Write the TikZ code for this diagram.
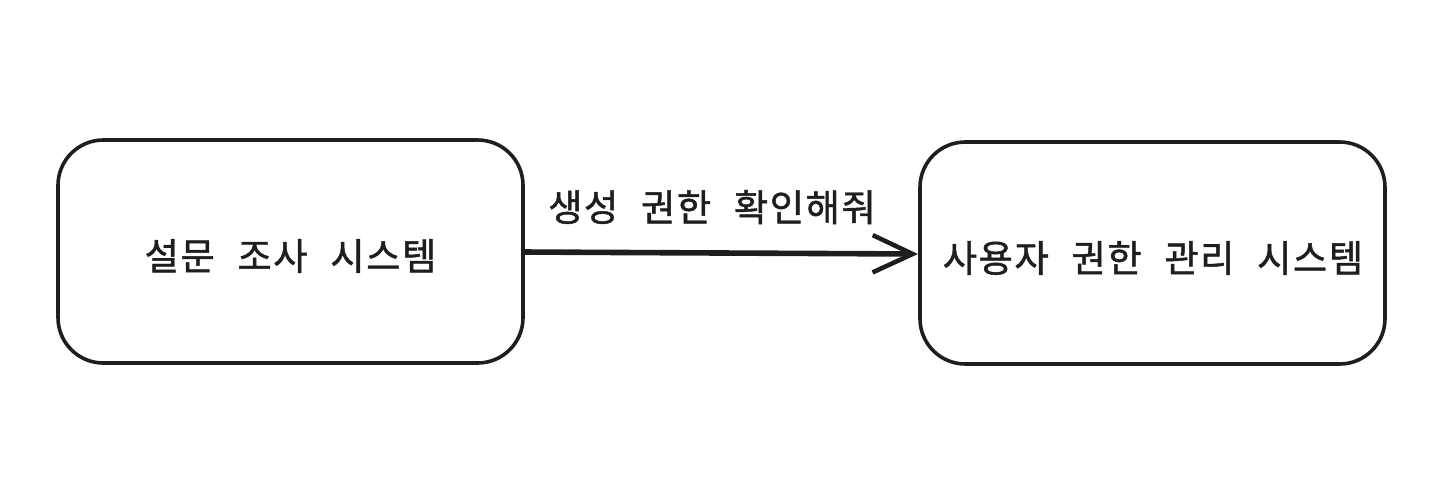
\documentclass[tikz,border=0pt]{standalone}
\usepackage{fontspec}
\newfontfamily\kr[WordSpace=2.3,FakeBold=1.2,LetterSpace=4]{Noto Sans CJK KR}
\usetikzlibrary{arrows.meta}
\definecolor{ink}{HTML}{1E1E1E}
\tikzset{
  sysbox/.style={draw=ink, line width=2.7pt, rounded corners=34pt},
  flow/.style={draw=ink, line width=4.2pt,
    -{Straight Barb[length=30pt,width=28pt,line width=3.4pt]}},
  lbl/.style={text=ink, font=\kr\fontsize{28pt}{33pt}\selectfont}
}
\begin{document}
\begin{tikzpicture}[x=0.75pt,y=-0.75pt]
\useasboundingbox (0,0) rectangle (1440,476);
\draw[sysbox] (58,140) rectangle (523,363);
\node[lbl] (a) at (290.5,256) {설문 조사 시스템};
\coordinate (ae) at (523,252);
\draw[sysbox] (920,142) rectangle (1385,364);
\node[lbl] (b) at (1153,258) {사용자 권한 관리 시스템};
\coordinate (bw) at (918,254);
\draw[flow] (ae) -- (bw);
\node[lbl] (l) at (712,207) {생성 권한 확인해줘};
\end{tikzpicture}
\end{document}
